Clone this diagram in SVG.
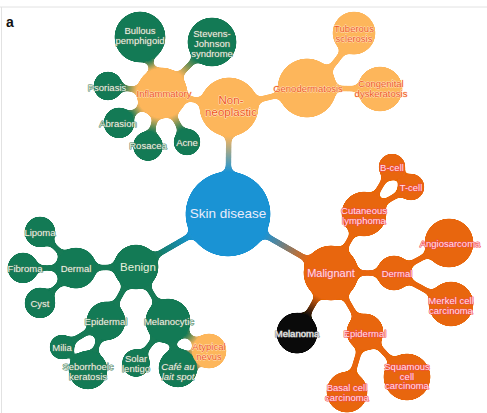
<svg xmlns="http://www.w3.org/2000/svg" xmlns:xlink="http://www.w3.org/1999/xlink" width="487" height="413" viewBox="0 0 487 413">
<style>
text{font-family:"Liberation Sans",Arial,sans-serif;text-anchor:middle;dominant-baseline:central;paint-order:stroke;stroke-linejoin:round}
.s{font-size:9.5px;stroke-width:1.1px}
.tg{fill:#eef5e6;stroke:#3f7c5e}
.tlo{fill:#ef561c;stroke:#ffe9cc;stroke-width:0.8px}
.tdo{fill:#ffe2e2;stroke:#f2444e}
.g{fill:#137a55}.lo{fill:#fdb65b}.do{fill:#e8660e}.bl{fill:#1a93d4}.bk{fill:#0a0a0a}
.c{fill:none;stroke-width:5;stroke-linecap:round}
.cg{stroke:#137a55}.clo{stroke:#fdb65b}.cdo{stroke:#e8660e}
</style>
<defs>
<filter id="goo" filterUnits="userSpaceOnUse" x="0" y="0" width="487" height="413">
<feGaussianBlur in="SourceGraphic" stdDeviation="3" result="b"/>
<feColorMatrix in="b" type="matrix" values="1 0 0 0 0  0 1 0 0 0  0 0 1 0 0  0 0 0 18 -7" result="m"/>
<feComposite in="SourceGraphic" in2="m" operator="atop"/>
</filter>
<linearGradient id="gSN" gradientUnits="userSpaceOnUse" x1="228" y1="172" x2="229" y2="136"><stop offset="0" stop-color="#1a93d4"/><stop offset="1" stop-color="#fdb65b"/></linearGradient>
<linearGradient id="gSB" gradientUnits="userSpaceOnUse" x1="191" y1="235" x2="155" y2="256"><stop offset="0" stop-color="#1a93d4"/><stop offset="1" stop-color="#137a55"/></linearGradient>
<linearGradient id="gSM" gradientUnits="userSpaceOnUse" x1="264" y1="235" x2="308" y2="260"><stop offset="0" stop-color="#1a93d4"/><stop offset="1" stop-color="#e8660e"/></linearGradient>
<linearGradient id="gMK" gradientUnits="userSpaceOnUse" x1="318" y1="296" x2="307" y2="316"><stop offset="0" stop-color="#e8660e"/><stop offset="1" stop-color="#0a0a0a"/></linearGradient>
<linearGradient id="gMA" gradientUnits="userSpaceOnUse" x1="186" y1="334" x2="196" y2="342"><stop offset="0" stop-color="#137a55"/><stop offset="1" stop-color="#fdb65b"/></linearGradient>
<linearGradient id="gI1" gradientUnits="userSpaceOnUse" x1="153" y1="70" x2="149" y2="60"><stop offset="0" stop-color="#fdb65b"/><stop offset="1" stop-color="#137a55"/></linearGradient>
<linearGradient id="gI2" gradientUnits="userSpaceOnUse" x1="180" y1="75" x2="195" y2="59"><stop offset="0" stop-color="#fdb65b"/><stop offset="1" stop-color="#137a55"/></linearGradient>
<linearGradient id="gI3" gradientUnits="userSpaceOnUse" x1="137" y1="90" x2="122" y2="88"><stop offset="0" stop-color="#fdb65b"/><stop offset="1" stop-color="#137a55"/></linearGradient>
<linearGradient id="gI4" gradientUnits="userSpaceOnUse" x1="141" y1="107" x2="131" y2="114"><stop offset="0" stop-color="#fdb65b"/><stop offset="1" stop-color="#137a55"/></linearGradient>
<linearGradient id="gI5" gradientUnits="userSpaceOnUse" x1="155.6" y1="117" x2="151.7" y2="132"><stop offset="0" stop-color="#fdb65b"/><stop offset="1" stop-color="#137a55"/></linearGradient>
<linearGradient id="gI6" gradientUnits="userSpaceOnUse" x1="173.4" y1="115" x2="181" y2="130"><stop offset="0" stop-color="#fdb65b"/><stop offset="1" stop-color="#137a55"/></linearGradient>
</defs>
<rect width="487" height="413" fill="#fff"/>
<line x1="0" y1="7" x2="487" y2="7" stroke="#e2e2e2" stroke-width="1"/>
<line x1="1.5" y1="7" x2="1.5" y2="413" stroke="#e2e2e2" stroke-width="1"/>
<text x="6" y="22" style="font-size:14px;font-weight:bold;fill:#111;text-anchor:start">a</text>

<g filter="url(#goo)">
<g id="connectors">
<line class="c" stroke="url(#gSN)" x1="228" y1="214" x2="229" y2="107"/>
<line class="c" stroke="url(#gSB)" x1="228" y1="214" x2="136" y2="267"/>
<line class="c" stroke="url(#gSM)" x1="228" y1="214" x2="331" y2="273"/>
<line class="c clo" x1="229" y1="107" x2="162" y2="93"/>
<line class="c clo" x1="229" y1="107" x2="307" y2="88"/>
<line class="c" stroke="url(#gI1)" x1="162" y1="93" x2="140" y2="37"/>
<line class="c" stroke="url(#gI2)" x1="162" y1="93" x2="212" y2="42"/>
<line class="c" stroke="url(#gI3)" x1="162" y1="93" x2="108" y2="86"/>
<line class="c" stroke="url(#gI4)" x1="162" y1="93" x2="119" y2="123"/>
<line class="c" stroke="url(#gI5)" x1="162" y1="93" x2="148" y2="146"/>
<line class="c" stroke="url(#gI6)" x1="162" y1="93" x2="187" y2="142"/>
<path class="c clo" d="M307 88 Q335 70 354 33"/>
<line class="c clo" x1="307" y1="88" x2="380" y2="89"/>
<line class="c cg" x1="136" y1="267" x2="76" y2="268"/>
<line class="c cg" x1="136" y1="267" x2="106" y2="321"/>
<line class="c cg" x1="136" y1="267" x2="168" y2="321"/>
<line class="c cg" x1="76" y1="268" x2="40" y2="232"/>
<line class="c cg" x1="76" y1="268" x2="23" y2="268"/>
<line class="c cg" x1="76" y1="268" x2="40" y2="303"/>
<line class="c cg" x1="106" y1="321" x2="62" y2="347"/>
<line class="c cg" x1="106" y1="321" x2="88" y2="370"/>
<line class="c cg" x1="168" y1="321" x2="136" y2="363"/>
<line class="c cg" x1="168" y1="321" x2="178" y2="368"/>
<line class="c" stroke="url(#gMA)" x1="168" y1="321" x2="209" y2="351"/>
<line class="c cdo" x1="331" y1="273" x2="364" y2="214"/>
<line class="c cdo" x1="331" y1="273" x2="394" y2="273"/>
<line class="c cdo" x1="331" y1="273" x2="365" y2="332"/>
<line class="c" stroke="url(#gMK)" x1="331" y1="273" x2="297" y2="333"/>
<line class="c cdo" x1="364" y1="214" x2="392" y2="167"/>
<line class="c cdo" x1="364" y1="214" x2="411" y2="187"/>
<line class="c cdo" x1="394" y1="273" x2="449" y2="243"/>
<line class="c cdo" x1="394" y1="273" x2="451" y2="304"/>
<line class="c cdo" x1="365" y1="332" x2="407" y2="377"/>
<line class="c cdo" x1="365" y1="332" x2="347" y2="392"/>
</g>
<g id="blend-bases">
<use href="#c-skin"/><use href="#c-nonneo"/><use href="#c-infl"/><use href="#c-geno"/><use href="#c-tub"/><use href="#c-cong"/>
<use href="#c-bull"/><use href="#c-sjs"/><use href="#c-pso"/><use href="#c-abr"/><use href="#c-ros"/><use href="#c-acne"/>
<use href="#c-benign"/><use href="#c-dermb"/><use href="#c-lip"/><use href="#c-fib"/><use href="#c-cyst"/><use href="#c-epib"/><use href="#c-mel"/>
<use href="#c-milia"/><use href="#c-seb"/><use href="#c-solar"/><use href="#c-cafe"/><use href="#c-atyp"/>
<use href="#c-mal"/><use href="#c-cut"/><use href="#c-bcell"/><use href="#c-tcell"/><use href="#c-dermm"/><use href="#c-angio"/><use href="#c-merkel"/>
<use href="#c-melanoma"/><use href="#c-epim"/><use href="#c-scc"/><use href="#c-bcc"/>
</g>
</g>

<g id="nodes">
<g id="skin-disease"><circle id="c-skin" class="bl" cx="228" cy="214" r="42"/><text x="228" y="213" style="font-size:13.5px;fill:#e9ecfb">Skin disease</text></g>
<g id="non-neoplastic"><circle id="c-nonneo" class="lo" cx="229" cy="107" r="29"/><text class="tlo" style="font-size:11.5px;stroke-width:1px" x="231"><tspan x="231" y="100">Non-</tspan><tspan x="231" y="112">neoplastic</tspan></text></g>
<g id="inflammatory"><circle id="c-infl" class="lo" cx="162" cy="93" r="25"/><text class="s tlo" x="164" y="93">Inflammatory</text></g>
<g id="genodermatosis"><circle id="c-geno" class="lo" cx="307" cy="88" r="29"/><text class="s tlo" x="308" y="88">Genodermatosis</text></g>
<g id="tuberous-sclerosis"><circle id="c-tub" class="lo" cx="354" cy="33" r="21"/><text class="s tlo"><tspan x="354" y="27.5">Tuberous</tspan><tspan x="354" y="37.5">sclerosis</tspan></text></g>
<g id="congenital-dyskeratosis"><circle id="c-cong" class="lo" cx="380" cy="89" r="22"/><text class="s tlo"><tspan x="381" y="83">Congenital</tspan><tspan x="381" y="93">dyskeratosis</tspan></text></g>
<g id="bullous-pemphigoid"><circle id="c-bull" class="g" cx="140" cy="37" r="25"/><text class="s tg"><tspan x="140" y="29.5">Bullous</tspan><tspan x="140" y="39.5">pemphigoid</tspan></text></g>
<g id="stevens-johnson"><circle id="c-sjs" class="g" cx="212" cy="42" r="24"/><text class="s tg"><tspan x="212" y="32.5">Stevens-</tspan><tspan x="212" y="42.5">Johnson</tspan><tspan x="212" y="52.5">syndrome</tspan></text></g>
<g id="psoriasis"><circle id="c-pso" class="g" cx="108" cy="86" r="14"/><text class="s tg" x="107" y="87">Psoriasis</text></g>
<g id="abrasion"><circle id="c-abr" class="g" cx="119" cy="123" r="15"/><text class="s tg" x="118" y="123">Abrasion</text></g>
<g id="rosacea"><circle id="c-ros" class="g" cx="148" cy="146" r="14.5"/><text class="s tg" x="148" y="145.5">Rosacea</text></g>
<g id="acne"><circle id="c-acne" class="g" cx="187" cy="142" r="13"/><text class="s tg" x="187" y="142">Acne</text></g>

<g id="benign"><circle id="c-benign" class="g" cx="136" cy="267" r="22"/><text x="138" y="267" style="font-size:11.5px;fill:#e8f0dc">Benign</text></g>
<g id="dermal-benign"><circle id="c-dermb" class="g" cx="76" cy="268" r="20"/><text class="s tg" x="76" y="268">Dermal</text></g>
<g id="lipoma"><circle id="c-lip" class="g" cx="40" cy="232" r="15"/><text class="s tg" x="40" y="232">Lipoma</text></g>
<g id="fibroma"><circle id="c-fib" class="g" cx="23" cy="268" r="15"/><text class="s tg" x="25" y="268">Fibroma</text></g>
<g id="cyst"><circle id="c-cyst" class="g" cx="40" cy="303" r="15"/><text class="s tg" x="40" y="303">Cyst</text></g>
<g id="epidermal-benign"><circle id="c-epib" class="g" cx="106" cy="321" r="19"/><text class="s tg" x="106" y="321">Epidermal</text></g>
<g id="melanocytic"><circle id="c-mel" class="g" cx="168" cy="321" r="22"/><text class="s tg" x="169" y="321">Melanocytic</text></g>
<g id="milia"><circle id="c-milia" class="g" cx="62" cy="347" r="12"/><text class="s tg" x="62" y="347">Milia</text></g>
<g id="seborrhoeic-keratosis"><circle id="c-seb" class="g" cx="88" cy="370" r="19"/><text class="s tg"><tspan x="88" y="366">Seborrhoeic</tspan><tspan x="88" y="376">keratosis</tspan></text></g>
<g id="solar-lentigo"><circle id="c-solar" class="g" cx="136" cy="363" r="13.5"/><text class="s tg"><tspan x="136" y="357.5">Solar</tspan><tspan x="136" y="367.5">lentigo</tspan></text></g>
<g id="cafe-au-lait"><circle id="c-cafe" class="g" cx="178" cy="368" r="19"/><text class="s tg" style="font-style:italic"><tspan x="178" y="366">Café au</tspan><tspan x="178" y="376">lait spot</tspan></text></g>
<g id="atypical-nevus"><circle id="c-atyp" class="lo" cx="209" cy="351" r="17"/><text class="s tlo"><tspan x="209" y="346">Atypical</tspan><tspan x="209" y="356">nevus</tspan></text></g>

<g id="malignant"><circle id="c-mal" class="do" cx="331" cy="273" r="27"/><text x="331" y="273" style="font-size:11px;fill:#ffe0e0;stroke:#f04c50;stroke-width:0.9px">Malignant</text></g>
<g id="cutaneous-lymphoma"><circle id="c-cut" class="do" cx="364" cy="214" r="22"/><text class="s tdo"><tspan x="364" y="209.5">Cutaneous</tspan><tspan x="364" y="219.5">lymphoma</tspan></text></g>
<g id="b-cell"><circle id="c-bcell" class="do" cx="392" cy="167" r="13"/><text class="s tdo" x="392" y="167">B-cell</text></g>
<g id="t-cell"><circle id="c-tcell" class="do" cx="411" cy="187" r="13"/><text class="s tdo" x="411" y="187">T-cell</text></g>
<g id="dermal-malignant"><circle id="c-dermm" class="do" cx="394" cy="273" r="17"/><text class="s tdo" x="397" y="273">Dermal</text></g>
<g id="angiosarcoma"><circle id="c-angio" class="do" cx="449" cy="243" r="24"/><text class="s tdo" x="450" y="243">Angiosarcoma</text></g>
<g id="merkel-cell-carcinoma"><circle id="c-merkel" class="do" cx="451" cy="304" r="22"/><text class="s tdo"><tspan x="451" y="300">Merkel cell</tspan><tspan x="451" y="310">carcinoma</tspan></text></g>
<g id="melanoma"><circle id="c-melanoma" class="bk" cx="297" cy="333" r="20"/><text class="s" x="297" y="333" style="fill:#eeeeee;stroke:#808080">Melanoma</text></g>
<g id="epidermal-malignant"><circle id="c-epim" class="do" cx="365" cy="332" r="18"/><text class="s tdo" x="365" y="333">Epidermal</text></g>
<g id="squamous-cell-carcinoma"><circle id="c-scc" class="do" cx="407" cy="377" r="23"/><text class="s tdo"><tspan x="407" y="366">Squamous</tspan><tspan x="407" y="375.5">cell</tspan><tspan x="407" y="385">carcinoma</tspan></text></g>
<g id="basal-cell-carcinoma"><circle id="c-bcc" class="do" cx="347" cy="392" r="20"/><text class="s tdo"><tspan x="347" y="387">Basal cell</tspan><tspan x="347" y="397">carcinoma</tspan></text></g>
</g>
</svg>
